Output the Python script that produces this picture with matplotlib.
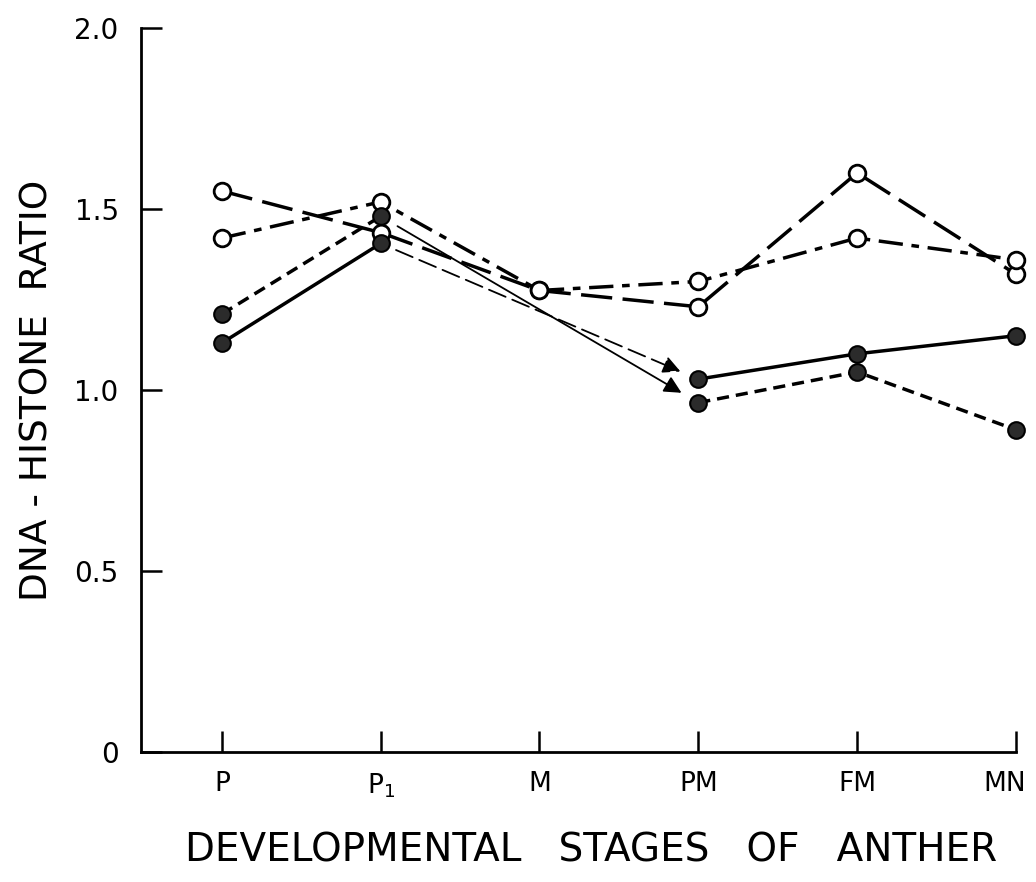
import numpy as np
import matplotlib.pyplot as plt
import matplotlib.transforms as mtransforms

# stages along the x axis
stages = ['P', r'$\mathregular{P_1}$', 'M', 'PM', 'FM', 'MN']

# DNA-histone ratio
open_longdash = [1.55, 1.435, 1.275, 1.23, 1.60, 1.32]
open_dashdot = [1.42, 1.52, 1.275, 1.30, 1.42, 1.36]
filled_dashed = [1.21, 1.48, np.nan, 0.965, 1.05, 0.89]
filled_solid = [1.13, 1.405, np.nan, 1.03, 1.10, 1.15]

plt.rcParams['font.family'] = ['DejaVu Sans']

fig = plt.figure(figsize=(10.36, 8.82), dpi=100)
ax = fig.add_axes([0.136, 0.1477, 0.8446, 0.8203])
x = np.arange(len(stages))

lw = 2.5
ms = 12
ax.plot(x, open_longdash, color='black', lw=lw, linestyle=(0, (9, 3)),
        marker='o', ms=ms, mfc='white', mec='black', mew=2, zorder=3, clip_on=False)
ax.plot(x, open_dashdot, color='black', lw=lw, linestyle=(0, (7, 2.5, 2.2, 2.5)),
        marker='o', ms=ms, mfc='white', mec='black', mew=2, zorder=3, clip_on=False)
ax.plot(x, filled_dashed, color='black', lw=lw, linestyle=(0, (3.5, 2)),
        marker='o', ms=ms, mfc='#2b2b2b', mec='black', mew=1.5, zorder=4, clip_on=False)
ax.plot(x, filled_solid, color='black', lw=lw, linestyle='-',
        marker='o', ms=ms, mfc='#2b2b2b', mec='black', mew=1.5, zorder=4, clip_on=False)

# arrows linking P1 to PM for the filled series
ax.annotate('', xy=(x[3], filled_solid[3]), xytext=(x[1], filled_solid[1]),
            arrowprops=dict(arrowstyle='-|>', color='black', lw=1.3,
                            linestyle=(0, (10, 4)), mutation_scale=26,
                            shrinkA=12, shrinkB=14))
ax.annotate('', xy=(x[3], filled_dashed[3]), xytext=(x[1], filled_dashed[1]),
            arrowprops=dict(arrowstyle='-|>', color='black', lw=1.3,
                            mutation_scale=26, shrinkA=14, shrinkB=14))

ax.set_xlim(-0.51, 5)
ax.set_ylim(0, 2.0)
ax.set_xticks(x)
ax.set_xticklabels(stages)
ax.set_yticks([0, 0.5, 1.0, 1.5, 2.0])
ax.set_yticklabels(['0', '0.5', '1.0', '1.5', '2.0'])

for side in ['top', 'right']:
    ax.spines[side].set_visible(False)
for side in ['left', 'bottom']:
    ax.spines[side].set_linewidth(2)

ax.tick_params(axis='both', direction='in', length=15, width=1.8,
               labelsize=20, pad=14)
ax.tick_params(axis='x', labelsize=19)
ax.tick_params(axis='y', pad=16)

# nudge the last stage label so it stays inside the figure
last = ax.get_xticklabels()[-1]
last.set_transform(last.get_transform() +
                   mtransforms.ScaledTranslation(-8 / 72, 0, fig.dpi_scale_trans))

ax.set_ylabel('DNA - HISTONE  RATIO', fontsize=27)
ax.yaxis.set_label_coords(-0.098, 0.5)
ax.set_xlabel('DEVELOPMENTAL   STAGES   OF   ANTHER', fontsize=28)
ax.xaxis.set_label_coords(0.515, -0.11)

fig.savefig('out.png', dpi=100)
